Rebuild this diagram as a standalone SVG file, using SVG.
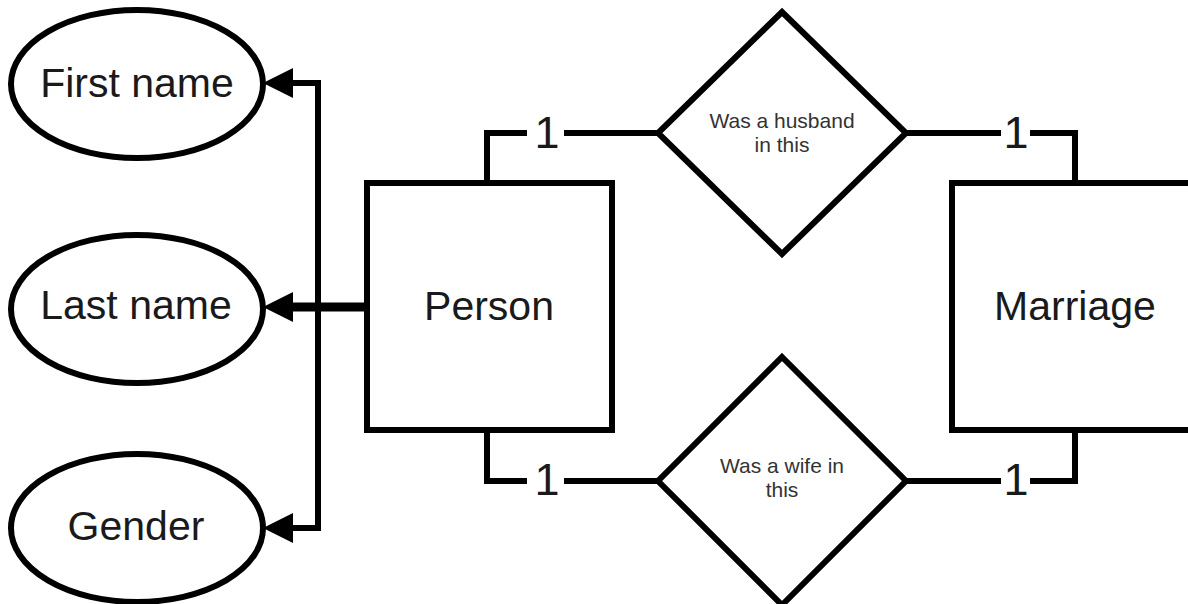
<svg xmlns="http://www.w3.org/2000/svg" width="1188" height="604" viewBox="0 0 1188 604">
<style>
.shape{fill:#fff;stroke:#000;stroke-width:6;stroke-linejoin:miter}
.conn{fill:none;stroke:#000;stroke-width:6;stroke-linejoin:miter}
.big{font-family:"Liberation Sans",Arial,sans-serif;font-size:41px;fill:#1a1a1a;text-anchor:middle}
.num{font-family:"Liberation Sans",Arial,sans-serif;font-size:45px;fill:#1a1a1a;text-anchor:middle}
.small{font-family:"Liberation Sans",Arial,sans-serif;font-size:21px;fill:#333;text-anchor:middle}
</style>
<defs>
<marker id="arr" viewBox="0 0 30 30" refX="15" refY="15" markerWidth="30" markerHeight="30" markerUnits="userSpaceOnUse" orient="auto">
<path d="M0,0 L30,15 L0,30 z" fill="#000"/>
</marker>
</defs>
<g id="connectors">
<path class="conn" d="M318,83 V528"/>
<path class="conn" d="M321,83 H278" marker-end="url(#arr)"/>
<path class="conn" d="M321,528 H278" marker-end="url(#arr)"/>
<path class="conn" style="stroke-width:9" d="M368,307 H278" marker-end="url(#arr)"/>
<path class="conn" d="M487,183 V133 H527"/>
<path class="conn" d="M564,133 H658"/>
<path class="conn" d="M906,133 H1001"/>
<path class="conn" d="M1030,133 H1075 V183"/>
<path class="conn" d="M487,430 V481 H527"/>
<path class="conn" d="M564,481 H658"/>
<path class="conn" d="M906,481 H1001"/>
<path class="conn" d="M1030,481 H1075 V430"/>
<text class="num" x="547" y="148">1</text>
<text class="num" x="1016" y="148">1</text>
<text class="num" x="547" y="495">1</text>
<text class="num" x="1016" y="495">1</text>
</g>
<g id="first-name">
<ellipse class="shape" cx="137" cy="84" rx="126" ry="74"/>
<text class="big" x="137" y="97">First name</text>
</g>
<g id="last-name">
<ellipse class="shape" cx="137" cy="309" rx="126" ry="74"/>
<text class="big" x="136" y="319">Last name</text>
</g>
<g id="gender">
<ellipse class="shape" cx="137" cy="528" rx="126" ry="74"/>
<text class="big" x="136" y="540">Gender</text>
</g>
<g id="person">
<rect class="shape" x="367" y="183" width="245" height="247"/>
<text class="big" x="489" y="320">Person</text>
</g>
<g id="marriage">
<rect class="shape" x="952" y="183" width="260" height="247"/>
<text class="big" x="1075" y="320">Marriage</text>
</g>
<g id="husband">
<polygon class="shape" points="782,12 906,133 782,254 658,133"/>
<text class="small" x="782" y="128">Was a husband</text>
<text class="small" x="782" y="152">in this</text>
</g>
<g id="wife">
<polygon class="shape" points="782,357 906,481 782,605 658,481"/>
<text class="small" x="782" y="473">Was a wife in</text>
<text class="small" x="782" y="497">this</text>
</g>
</svg>
